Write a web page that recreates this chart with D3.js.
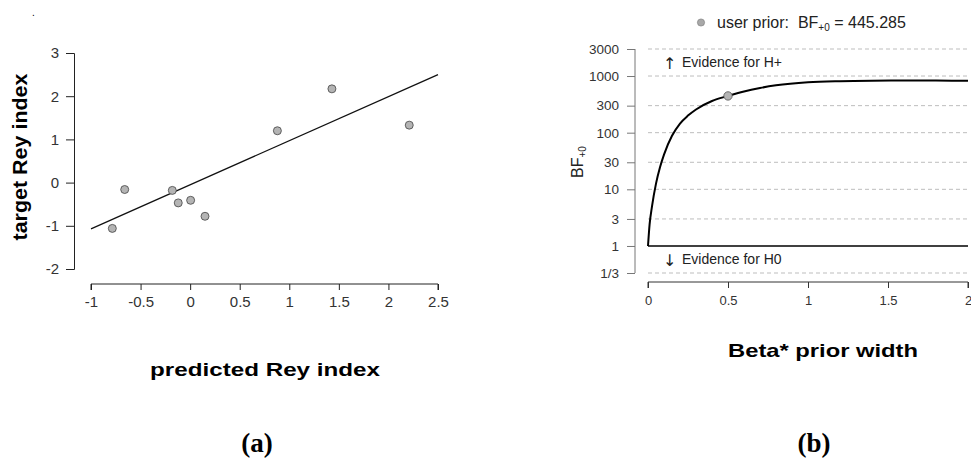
<!DOCTYPE html>
<html>
<head>
<meta charset="utf-8">
<script src="https://cdn.jsdelivr.net/npm/d3@7"></script>
<style>
  body { margin: 0; background: #fff; }
  text { font-family: "Liberation Sans", Arial, sans-serif; }
</style>
</head>
<body>
<div id="chart"></div>
<script>
// panel (a) data
var predicted = [-0.785, -0.66, -0.18, -0.12, 0.005, 0.15, 0.88, 1.43, 2.21];
var target    = [-1.06, -0.16, -0.18, -0.47, -0.41, -0.78, 1.20, 2.17, 1.33];
var fitX = [-1, 2.5];
var fitY = [-1.07, 2.5];
var aTicksX = [-1, -0.5, 0, 0.5, 1, 1.5, 2, 2.5];
var aTicksY = [-2, -1, 0, 1, 2, 3];

// panel (b) data
var priorWidth = [0, 0.01, 0.025, 0.05, 0.075, 0.1, 0.15, 0.2, 0.25, 0.3, 0.4, 0.5, 0.6, 0.7, 0.8, 1.0, 1.2, 1.4, 1.6, 1.8, 2.0];
var bf = [1, 2.4, 5, 12.6, 24.5, 41, 88, 145, 200, 257, 362, 445.285, 535, 615, 685, 775, 812, 828, 833, 830, 827];
var userPrior = [0.5, 445.285];
var bTicksX = [0, 0.5, 1, 1.5, 2];
var bTicksY = [1/3, 1, 3, 10, 30, 100, 300, 1000, 3000];
var bTickLabels = ["1/3", "1", "3", "10", "30", "100", "300", "1000", "3000"];

var w = 971, h = 467;
var svg = d3.select("#chart").append("svg")
    .attr("width", w)
    .attr("height", h);

// plain hyphen minus like the original R output
function plain(d) { return String(d); }

// the bold titles in the original are stretched sideways, scale glyphs to fit
function stretchLabel(x, y, width, size, rotate, txt) {
    var g = svg.append("g").attr("transform", "translate(" + x + "," + y + ")" + (rotate ? " rotate(-90)" : ""));
    var t = g.append("text")
        .attr("text-anchor", "middle")
        .style("font-size", size + "px")
        .style("font-weight", "bold")
        .text(txt);
    var len = t.node().getComputedTextLength();
    t.attr("transform", "scale(" + (width / len) + ",1)");
    return t;
}

// ---------- panel (a) ----------
var ax = d3.scaleLinear().domain([-1, 2.5]).range([91, 438]);
var ay = d3.scaleLinear().domain([-2, 3]).range([269, 53]);

// y axis
svg.append("g")
    .attr("transform", "translate(74,0)")
    .call(d3.axisLeft(ay).tickValues(aTicksY).tickSize(8).tickPadding(7).tickFormat(plain))
    .call(function (g) {
        g.select(".domain").attr("stroke", "#222");
        g.selectAll("line").attr("stroke", "#222");
        g.selectAll("text").style("font-size", "15px").attr("fill", "#333").attr("font-family", null);
    });

// x axis
svg.append("g")
    .attr("transform", "translate(0,284)")
    .call(d3.axisBottom(ax).tickValues(aTicksX).tickSize(6).tickPadding(6).tickFormat(plain))
    .call(function (g) {
        g.select(".domain").attr("stroke", "#222").attr("d", "M91,6V0H438V6");
        g.selectAll("line").attr("stroke", "#222");
        g.selectAll("text").style("font-size", "15px").attr("fill", "#333").attr("font-family", null);
    });

// fitted line
svg.append("line")
    .attr("x1", ax(fitX[0])).attr("y1", ay(fitY[0]))
    .attr("x2", ax(fitX[1])).attr("y2", ay(fitY[1]))
    .attr("stroke", "#111")
    .attr("stroke-width", 1.3);

// points
svg.selectAll("circle.pt")
    .data(predicted)
    .enter()
    .append("circle")
    .attr("class", "pt")
    .attr("cx", function (d) { return ax(d); })
    .attr("cy", function (d, i) { return ay(target[i]); })
    .attr("r", 4)
    .attr("fill", "#b4b4b4")
    .attr("stroke", "#444")
    .attr("stroke-width", 0.8);

stretchLabel(27, 157, 167, 20, true, "target Rey index");
stretchLabel(265, 376, 230, 19, false, "predicted Rey index");

svg.append("text")
    .attr("x", 32).attr("y", 16)
    .style("font-size", "10px")
    .text(".");

svg.append("text")
    .attr("x", 257).attr("y", 452)
    .attr("text-anchor", "middle")
    .style("font-family", "'Liberation Serif', 'Times New Roman', serif")
    .style("font-size", "27px")
    .style("font-weight", "bold")
    .text("(a)");

// ---------- panel (b) ----------
var bx = d3.scaleLinear().domain([0, 2]).range([648, 968]);
var by = d3.scaleLog().domain([1/3, 3000]).range([273, 49]);

// dashed grid
svg.selectAll("line.grid")
    .data(bTicksY.filter(function (d) { return d !== 1; }))
    .enter()
    .append("line")
    .attr("class", "grid")
    .attr("x1", bx(0)).attr("x2", bx(2))
    .attr("y1", function (d) { return by(d); })
    .attr("y2", function (d) { return by(d); })
    .attr("stroke", "#bdbdbd")
    .attr("stroke-width", 1)
    .attr("stroke-dasharray", "4,3");

// BF = 1 reference
svg.append("line")
    .attr("x1", bx(0)).attr("x2", bx(2))
    .attr("y1", by(1)).attr("y2", by(1))
    .attr("stroke", "#000")
    .attr("stroke-width", 1.6);

svg.append("g")
    .attr("transform", "translate(635,0)")
    .call(d3.axisLeft(by).tickValues(bTicksY).tickSize(8).tickPadding(8)
        .tickFormat(function (d, i) { return bTickLabels[i]; }))
    .call(function (g) {
        g.select(".domain").attr("stroke", "#777").attr("d", "M0," + by(1/3) + "V" + by(3000));
        g.selectAll("line").attr("stroke", "#777");
        g.selectAll("text").style("font-size", "13.5px").attr("fill", "#333").attr("font-family", null);
    });

svg.append("g")
    .attr("transform", "translate(0,282)")
    .call(d3.axisBottom(bx).tickValues(bTicksX).tickSize(6).tickPadding(8).tickFormat(plain))
    .call(function (g) {
        g.select(".domain").attr("stroke", "#333").attr("d", "M648,6V0H968V6");
        g.selectAll("line").attr("stroke", "#333");
        g.selectAll("text").style("font-size", "13px").attr("fill", "#333").attr("font-family", null);
    });

// BF curve
var line = d3.line()
    .x(function (d, i) { return bx(d); })
    .y(function (d, i) { return by(bf[i]); })
    .curve(d3.curveMonotoneX);

svg.append("path")
    .attr("d", line(priorWidth))
    .attr("fill", "none")
    .attr("stroke", "#000")
    .attr("stroke-width", 2);

svg.append("circle")
    .attr("cx", bx(userPrior[0]))
    .attr("cy", by(userPrior[1]))
    .attr("r", 4.2)
    .attr("fill", "#b4b4b4")
    .attr("stroke", "#555")
    .attr("stroke-width", 0.8);

// legend
svg.append("circle")
    .attr("cx", 701).attr("cy", 22.5).attr("r", 3.6)
    .attr("fill", "#a8a8a8")
    .attr("stroke", "#777")
    .attr("stroke-width", 0.6);

var leg = svg.append("text")
    .attr("x", 717).attr("y", 28)
    .style("font-size", "16px")
    .style("white-space", "pre")
    .attr("fill", "#222");
leg.append("tspan").text("user prior:  BF");
leg.append("tspan").attr("dy", 3).style("font-size", "10px").text("+0");
leg.append("tspan").attr("dy", -3).text(" = 445.285");

// evidence annotations
var evid = [["\u2191", "Evidence for H+", 67], ["\u2193", "Evidence for H0", 264]];
evid.forEach(function (e) {
    svg.append("text")
        .attr("x", 663).attr("y", e[2] + 2)
        .style("font-family", "'DejaVu Sans', sans-serif")
        .style("font-size", "16px")
        .attr("fill", "#222")
        .text(e[0]);
    svg.append("text")
        .attr("x", 682).attr("y", e[2])
        .style("font-size", "14px")
        .attr("fill", "#222")
        .text(e[1]);
});

var yl = svg.append("text")
    .attr("transform", "translate(583,162) rotate(-90)")
    .attr("text-anchor", "middle")
    .style("font-size", "16px")
    .attr("fill", "#222");
yl.append("tspan").text("BF");
yl.append("tspan").attr("dy", 3).style("font-size", "10px").text("+0");

stretchLabel(823, 357, 190, 19, false, "Beta* prior width");

svg.append("text")
    .attr("x", 814).attr("y", 452)
    .attr("text-anchor", "middle")
    .style("font-family", "'Liberation Serif', 'Times New Roman', serif")
    .style("font-size", "27px")
    .style("font-weight", "bold")
    .text("(b)");
</script>
</body>
</html>
